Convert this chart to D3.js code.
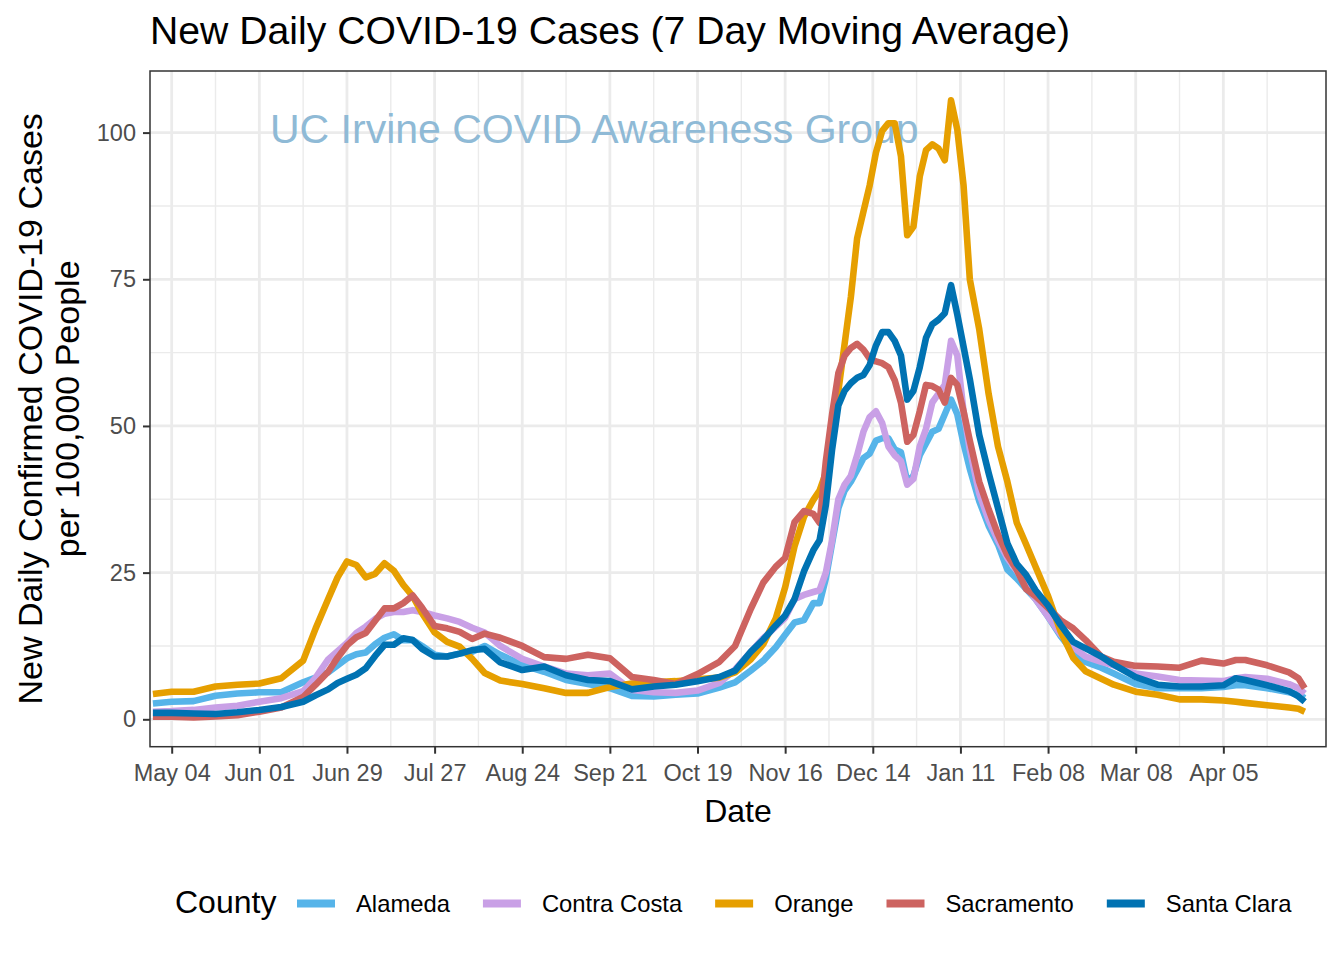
<!DOCTYPE html>
<html>
<head>
<meta charset="utf-8">
<script src="https://cdn.jsdelivr.net/npm/d3@7"></script>
<style>
  html, body { margin: 0; padding: 0; background: #ffffff; }
  svg { display: block; }
  text { font-family: "Liberation Sans", Arial, Helvetica, sans-serif; }
</style>
</head>
<body>
<svg id="chart" width="1344" height="960"></svg>
<script>
// ---------------- DATA ----------------
const dates = [
  "2020-04-28","2020-05-04","2020-05-11","2020-05-18","2020-05-25","2020-06-01","2020-06-08","2020-06-15",
  "2020-06-19","2020-06-23","2020-06-26","2020-06-29","2020-07-02","2020-07-05","2020-07-08","2020-07-11",
  "2020-07-14","2020-07-17","2020-07-20","2020-07-23","2020-07-27","2020-07-31","2020-08-04","2020-08-08",
  "2020-08-12","2020-08-17","2020-08-24","2020-08-31","2020-09-07","2020-09-14","2020-09-21","2020-09-28",
  "2020-10-05","2020-10-12","2020-10-19","2020-10-26","2020-10-31","2020-11-05","2020-11-09","2020-11-13",
  "2020-11-16","2020-11-19","2020-11-22","2020-11-25","2020-11-27","2020-11-29","2020-12-01","2020-12-03",
  "2020-12-05","2020-12-07","2020-12-09","2020-12-11","2020-12-13","2020-12-15","2020-12-17","2020-12-19",
  "2020-12-21","2020-12-23","2020-12-25","2020-12-27","2020-12-29","2020-12-31","2021-01-02","2021-01-04",
  "2021-01-06","2021-01-08","2021-01-10","2021-01-12","2021-01-14","2021-01-17","2021-01-20","2021-01-23",
  "2021-01-26","2021-01-29","2021-02-01","2021-02-04","2021-02-08","2021-02-12","2021-02-16","2021-02-20",
  "2021-02-25","2021-03-01","2021-03-08","2021-03-15","2021-03-22","2021-03-29","2021-04-05","2021-04-09",
  "2021-04-12","2021-04-19","2021-04-26","2021-04-29","2021-05-01"
];

const counties = ["Alameda", "Contra Costa", "Orange", "Sacramento", "Santa Clara"];

const alameda = [
  2.7,3.0,3.1,4.0,4.4,4.6,4.6,6.3,
  7.1,8.0,9.2,10.4,11.1,11.4,12.8,13.9,
  14.5,13.5,13.5,12.5,11.0,10.7,11.2,11.5,
  12.5,11.0,9.3,8.1,6.7,6.0,5.3,4.0,
  3.9,4.2,4.4,5.4,6.3,8.3,10.0,12.3,
  14.4,16.5,16.9,19.8,19.8,24.0,30.0,36.0,
  39.0,40.5,42.5,44.5,45.3,47.5,47.9,47.9,
  46.0,45.5,40.5,41.5,45.0,47.0,49.0,49.5,
  52.0,54.5,52.0,47.0,42.7,37.2,33.0,29.8,
  25.5,24.0,22.2,20.5,17.5,14.2,11.5,9.8,
  8.8,7.8,6.0,5.3,5.3,5.3,5.5,5.8,
  5.8,5.3,4.6,4.2,3.6
];

const contraCosta = [
  1.3,1.4,1.6,2.0,2.3,3.0,3.6,4.8,
  7.1,10.2,11.6,13.0,14.7,15.8,17.1,18.0,
  18.3,18.3,18.6,18.3,17.7,17.2,16.6,15.6,
  14.8,12.5,10.3,9.0,7.8,7.5,7.8,5.0,
  4.6,4.5,4.9,6.2,8.5,11.5,13.8,15.8,
  17.3,20.5,21.2,21.7,22.0,25.0,30.5,37.5,
  40.0,41.5,45.0,49.0,51.5,52.5,50.5,46.5,
  45.0,44.0,40.0,41.0,46.5,49.5,54.0,55.5,
  57.0,64.5,62.0,52.5,46.0,38.5,34.0,30.5,
  27.5,25.3,22.7,20.5,17.5,14.5,12.3,10.7,
  9.8,9.2,7.8,7.3,6.7,6.6,6.5,7.0,
  7.2,6.9,6.0,5.3,4.4
];

const orange = [
  4.3,4.7,4.7,5.6,5.9,6.1,7.0,10.0,
  15.5,20.5,24.2,26.9,26.3,24.2,24.8,26.6,
  25.3,22.9,21.0,18.1,14.8,13.2,12.4,10.3,
  7.9,6.6,6.0,5.3,4.5,4.5,5.5,6.1,
  6.3,6.5,6.8,7.1,8.0,10.2,12.8,17.2,
  22.5,29.5,34.5,37.4,39.0,42.0,47.5,56.0,
  64.0,72.0,82.0,86.5,91.0,96.6,100.3,101.6,
  101.6,96.0,82.5,84.0,92.5,97.0,98.0,97.3,
  95.3,105.5,100.5,91.0,75.0,66.5,55.5,46.5,
  40.5,33.5,29.8,26.0,21.0,15.0,10.5,8.2,
  6.9,5.9,4.7,4.2,3.4,3.4,3.2,3.0,
  2.8,2.4,2.0,1.8,1.3
];

const sacramento = [
  0.45,0.45,0.3,0.5,0.7,1.3,2.0,3.8,
  5.9,8.1,10.5,12.6,14.0,14.7,16.8,18.9,
  18.9,19.8,21.1,19.0,15.9,15.5,14.9,13.7,
  14.6,13.9,12.5,10.6,10.3,11.0,10.4,7.2,
  6.7,6.0,7.7,9.8,12.5,18.8,23.3,26.0,
  27.5,33.6,35.5,35.0,33.5,44.0,52.0,59.0,
  62.0,63.3,64.0,63.0,61.5,61.0,60.7,60.0,
  57.8,54.0,47.3,48.5,52.5,57.0,56.8,56.2,
  54.0,58.2,57.0,52.5,47.5,40.5,35.8,31.5,
  28.0,25.5,22.2,21.0,19.0,16.9,15.5,13.5,
  10.7,9.8,9.1,9.0,8.8,10.0,9.5,10.1,
  10.1,9.2,8.0,7.0,5.3
];

const santaClara = [
  1.1,1.1,1.0,0.9,1.2,1.6,2.1,3.0,
  4.1,5.1,6.2,6.9,7.6,8.7,10.8,12.7,
  12.7,13.8,13.5,12.0,10.7,10.7,11.2,11.8,
  12.0,9.7,8.4,9.0,7.5,6.7,6.5,5.1,
  5.6,5.9,6.5,7.2,8.3,11.5,13.6,16.0,
  17.7,20.5,25.2,28.8,30.5,36.5,46.0,53.5,
  56.0,57.3,58.2,58.7,60.4,63.7,66.0,66.0,
  64.5,62.0,54.5,56.0,60.0,65.0,67.3,68.1,
  69.2,74.0,69.0,63.5,58.0,48.5,42.0,36.0,
  30.0,26.5,24.6,22.0,19.4,16.1,13.2,12.1,
  10.7,9.3,7.2,5.9,5.6,5.6,5.8,7.0,
  6.7,5.8,4.8,3.9,3.0
];

const xTickLabels = ["May 04","Jun 01","Jun 29","Jul 27","Aug 24","Sep 21","Oct 19","Nov 16","Dec 14","Jan 11","Feb 08","Mar 08","Apr 05"];
const xTickDates = ["2020-05-04","2020-06-01","2020-06-29","2020-07-27","2020-08-24","2020-09-21","2020-10-19","2020-11-16","2020-12-14","2021-01-11","2021-02-08","2021-03-08","2021-04-05"];
const yTicks = [0, 25, 50, 75, 100];
const yMinor = [12.5, 37.5, 62.5, 87.5];

// ---------------- LAYOUT ----------------
const svg = d3.select("#chart");
const W = 1344, H = 960;
const panel = { left: 150, right: 1326, top: 71, bottom: 746.7 };
const colors = {
  "Alameda": "#56B4E9",
  "Contra Costa": "#C9A0E6",
  "Orange": "#E69F00",
  "Sacramento": "#CD6360",
  "Santa Clara": "#0072B2"
};
const seriesValues = {
  "Alameda": alameda,
  "Contra Costa": contraCosta,
  "Orange": orange,
  "Sacramento": sacramento,
  "Santa Clara": santaClara
};

const parse = d3.utcParse("%Y-%m-%d");
const parsedDates = dates.map(parse);

const x = d3.scaleUtc()
  .domain([new Date(Date.UTC(2020, 3, 27, 1, 40)), new Date(Date.UTC(2021, 4, 7, 19, 12))])
  .range([panel.left, panel.right]);
const y = d3.scaleLinear()
  .domain([-4.67, 110.5])
  .range([panel.bottom, panel.top]);

svg.append("rect").attr("width", W).attr("height", H).attr("fill", "#ffffff");

svg.append("defs").append("clipPath").attr("id", "clip")
  .append("rect")
  .attr("x", panel.left).attr("y", panel.top)
  .attr("width", panel.right - panel.left).attr("height", panel.bottom - panel.top);

const grid = svg.append("g");
const majorDates = xTickDates.map(parse);
const dayMs = 86400000;
const minorDates = [];
for (let t = majorDates[0].getTime() - 14 * dayMs; t <= x.domain()[1].getTime(); t += 28 * dayMs) {
  const dt = new Date(t);
  if (dt >= x.domain()[0]) minorDates.push(dt);
}
grid.selectAll("line.vminor").data(minorDates).enter().append("line")
  .attr("x1", d => x(d)).attr("x2", d => x(d))
  .attr("y1", panel.top).attr("y2", panel.bottom)
  .attr("stroke", "#EBEBEB").attr("stroke-width", 1.4);
grid.selectAll("line.hminor").data(yMinor).enter().append("line")
  .attr("x1", panel.left).attr("x2", panel.right)
  .attr("y1", d => y(d)).attr("y2", d => y(d))
  .attr("stroke", "#EBEBEB").attr("stroke-width", 1.4);
grid.selectAll("line.vmajor").data(majorDates).enter().append("line")
  .attr("x1", d => x(d)).attr("x2", d => x(d))
  .attr("y1", panel.top).attr("y2", panel.bottom)
  .attr("stroke", "#EBEBEB").attr("stroke-width", 2.8);
grid.selectAll("line.hmajor").data(yTicks).enter().append("line")
  .attr("x1", panel.left).attr("x2", panel.right)
  .attr("y1", d => y(d)).attr("y2", d => y(d))
  .attr("stroke", "#EBEBEB").attr("stroke-width", 2.8);

// watermark
svg.append("text")
  .attr("x", 270).attr("y", 143)
  .attr("font-size", 41)
  .attr("fill", "#8FBAD6")
  .text("UC Irvine COVID Awareness Group");

// lines
const line = d3.line()
  .x((d, i) => x(parsedDates[i]))
  .y(d => y(d));
const lineG = svg.append("g").attr("clip-path", "url(#clip)");
counties.forEach(c => {
  lineG.append("path")
    .datum(seriesValues[c])
    .attr("d", line)
    .attr("fill", "none")
    .attr("stroke", colors[c])
    .attr("stroke-width", 6.6)
    .attr("stroke-linejoin", "round")
    .attr("stroke-linecap", "butt");
});

// panel border
svg.append("rect")
  .attr("x", panel.left).attr("y", panel.top)
  .attr("width", panel.right - panel.left).attr("height", panel.bottom - panel.top)
  .attr("fill", "none").attr("stroke", "#333333").attr("stroke-width", 1.5);

// x axis
const xAxis = d3.axisBottom(x)
  .tickValues(majorDates)
  .tickFormat((d, i) => xTickLabels[i])
  .tickSize(7).tickPadding(11);
const gx = svg.append("g").attr("transform", `translate(0,${panel.bottom})`).call(xAxis);
gx.select(".domain").remove();
gx.selectAll(".tick line").attr("stroke", "#333333").attr("stroke-width", 2);
gx.selectAll(".tick text").attr("font-size", 23.5).attr("fill", "#4D4D4D")
  .attr("font-family", "Liberation Sans, Arial, sans-serif");

// y axis
const yAxis = d3.axisLeft(y).tickValues(yTicks).tickSize(7).tickPadding(7);
const gy = svg.append("g").attr("transform", `translate(${panel.left},0)`).call(yAxis);
gy.select(".domain").remove();
gy.selectAll(".tick line").attr("stroke", "#333333").attr("stroke-width", 2);
gy.selectAll(".tick text").attr("font-size", 23.5).attr("fill", "#4D4D4D")
  .attr("font-family", "Liberation Sans, Arial, sans-serif");

// title
svg.append("text")
  .attr("x", 150).attr("y", 44)
  .attr("font-size", 39)
  .attr("textLength", 920)
  .attr("lengthAdjust", "spacingAndGlyphs")
  .attr("fill", "#000000")
  .text("New Daily COVID-19  Cases (7 Day Moving Average)");

// axis titles
svg.append("text")
  .attr("x", (panel.left + panel.right) / 2).attr("y", 822)
  .attr("text-anchor", "middle")
  .attr("font-size", 32)
  .attr("fill", "#000000")
  .text("Date");

const yMid = (panel.top + panel.bottom) / 2;
const yTitle = svg.append("g");
[["New Daily Confirmed COVID-19 Cases", 42], ["per 100,000 People", 79]].forEach(([t, bx]) => {
  yTitle.append("text")
    .attr("x", bx).attr("y", yMid)
    .attr("transform", `rotate(-90, ${bx}, ${yMid})`)
    .attr("text-anchor", "middle")
    .attr("font-size", 34)
    .attr("fill", "#000000")
    .text(t);
});

// legend
const legend = svg.append("g");
legend.append("text")
  .attr("x", 175).attr("y", 913)
  .attr("font-size", 32)
  .attr("fill", "#000000")
  .text("County");
let kx = 297;
const ky = 903.5;
counties.forEach(c => {
  legend.append("line")
    .attr("x1", kx).attr("x2", kx + 38)
    .attr("y1", ky).attr("y2", ky)
    .attr("stroke", colors[c]).attr("stroke-width", 8);
  const t = legend.append("text")
    .attr("x", kx + 59).attr("y", 912)
    .attr("font-size", 23.8)
    .attr("fill", "#000000")
    .text(c);
  const w = t.node().getComputedTextLength();
  kx = kx + 59 + w + 33;
});
</script>
</body>
</html>
